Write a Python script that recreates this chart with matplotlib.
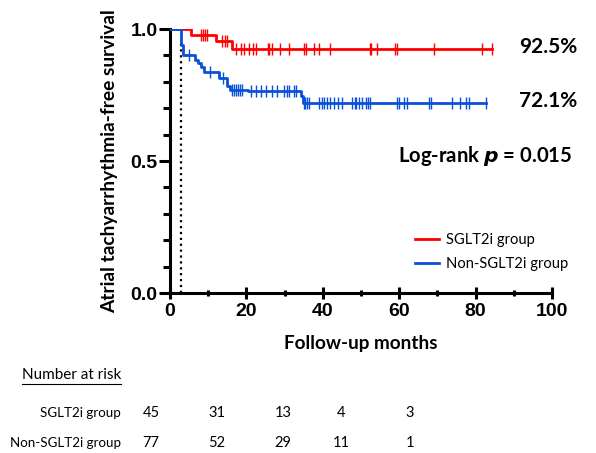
import numpy as np
import matplotlib
matplotlib.use('Agg')
import matplotlib.pyplot as plt
from matplotlib.lines import Line2D

# Kaplan-Meier steps (event times, survival after event)
sglt2_times = [0, 5.4, 12.1, 16.3]
sglt2_surv = [1.0, 0.978, 0.955, 0.925]
sglt2_end = 84.2
sglt2_censor = [8.0, 8.6, 9.1, 9.7, 13.7, 14.3, 15.0, 17.3, 18.5, 19.3, 20.6,
                21.7, 22.4, 25.6, 26.0, 26.6, 28.9, 31.1, 35.0, 35.7, 37.6,
                39.0, 42.0, 52.3, 52.7, 54.1, 58.8, 59.3, 69.1, 81.7, 84.2]

non_times = [0, 2.9, 3.3, 6.6, 7.4, 8.2, 8.9, 12.9, 15.0, 15.8, 20.4, 34.2, 34.8]
non_surv = [1.0, 0.94, 0.90, 0.883, 0.870, 0.857, 0.838, 0.815, 0.785,
            0.770, 0.764, 0.745, 0.721]
non_end = 82.6
non_censor = [5.0, 10.5, 14.0, 16.3, 16.8, 17.3, 17.8, 18.3, 18.9, 21.1, 22.4,
              23.7, 25.0, 26.8, 28.1, 29.8, 30.5, 31.1, 32.4, 33.0, 35.0, 35.4,
              35.8, 36.3, 39.0, 39.7, 40.3, 41.2, 42.0, 42.9, 44.0, 44.9, 47.7,
              48.3, 48.8, 49.4, 50.3, 51.2, 51.8, 52.3, 59.3, 59.9, 61.2, 62.1,
              67.7, 68.4, 73.9, 76.0, 77.4, 78.2, 82.6]

groups = ['SGLT2i group', 'Non-SGLT2i group']
final_labels = ['92.5%', '72.1%']
risk_sglt2 = [45, 31, 13, 4, 3]
risk_non = [77, 52, 29, 11, 1]

RED = '#ff0000'
BLUE = '#0a50d8'
CAL = ['Lato', 'DejaVu Sans']
ARIAL = ['Liberation Sans', 'DejaVu Sans']


def surv_at(times, surv, t):
    i = np.searchsorted(times, t, side='right') - 1
    return np.array(surv)[i]


fig = plt.figure(figsize=(5.96, 4.53), dpi=100)
ax = fig.add_axes([170 / 596, 1 - 293 / 453, 382 / 596, 264 / 453])

ax.plot([3, 3], [0, 0.95], color='black', ls=':', lw=1.6, zorder=1)

for times, surv, end, cens, col, lab in [
        (sglt2_times, sglt2_surv, sglt2_end, sglt2_censor, RED, groups[0]),
        (non_times, non_surv, non_end, non_censor, BLUE, groups[1])]:
    ax.step(times + [end], surv + [surv[-1]], where='post', color=col,
            lw=2.0, label=lab, zorder=3)
    cens = np.array(cens)
    ax.plot(cens, surv_at(times, surv, cens), ls='none', marker='|',
            ms=8, mew=1.0, color=col, zorder=3)

ax.set_xlim(0, 100)
ax.set_ylim(0, 1.0)
ax.set_xticks([0, 20, 40, 60, 80, 100])
ax.set_xticks(np.arange(10, 100, 20), minor=True)
ax.set_yticks([0.0, 0.5, 1.0])
ax.set_yticks(np.arange(0.1, 1.0, 0.1), minor=True)
ax.set_yticklabels(['0.0', '0.5', '1.0'])
for s in ['top', 'right']:
    ax.spines[s].set_visible(False)
for s in ['left', 'bottom']:
    ax.spines[s].set_linewidth(2.2)
ax.tick_params(which='major', length=8, width=2.2, labelsize=14, pad=1)
ax.tick_params(which='minor', length=5, width=2.2)
ax.tick_params(axis='x', which='both', direction='inout')
ax.tick_params(axis='x', which='major', pad=3)
ax.tick_params(axis='y', which='both', direction='out')
for t in ax.get_xticklabels() + ax.get_yticklabels():
    t.set_fontfamily(ARIAL)
    t.set_fontweight('bold')

ax.set_xlabel('Follow-up months', fontsize=13.6, fontweight='bold',
              family=CAL, labelpad=11)
ax.set_ylabel('Atrial tachyarrhythmia-free survival', fontsize=13.8,
              fontweight='bold', family=CAL, labelpad=9)

fig.text(548 / 596, 1 - 47 / 453, final_labels[0], fontsize=15,
         fontweight='bold', family=CAL, ha='center', va='center')
fig.text(548 / 596, 1 - 101 / 453, final_labels[1], fontsize=15,
         fontweight='bold', family=CAL, ha='center', va='center')
fig.text(398 / 596, 1 - 156 / 453, 'Log-rank $\\mathbfit{p}$ = 0.015',
         fontsize=14.6, fontweight='bold', family=CAL, ha='left', va='center')

ax.legend(loc='upper left', bbox_to_anchor=(415 / 596, 1 - 233 / 453),
          bbox_transform=fig.transFigure, frameon=False,
          prop={'family': CAL, 'size': 10.6}, handlelength=1.6,
          handletextpad=0.5, labelspacing=0.7, borderaxespad=0,
          borderpad=0)

# number at risk table
nar = fig.text(22 / 596, 1 - 375 / 453, 'Number at risk', fontsize=11,
               family=CAL, ha='left', va='center')
fig.canvas.draw()
bb = nar.get_window_extent().transformed(fig.transFigure.inverted())
fig.add_artist(Line2D([bb.x0, bb.x1], [bb.y0 - 0.004, bb.y0 - 0.004],
                      transform=fig.transFigure, color='black', lw=0.8))

col_x = [151, 217, 283, 341, 410]
for row_y, name, vals in [(413, groups[0], risk_sglt2),
                          (443, groups[1], risk_non)]:
    fig.text(121 / 596, 1 - row_y / 453, name, fontsize=9.6, family=CAL,
             ha='right', va='center')
    for x, v in zip(col_x, vals):
        fig.text(x / 596, 1 - row_y / 453, str(v), fontsize=10.5, family=CAL,
                 ha='center', va='center')

fig.savefig('out.png', dpi=100)
